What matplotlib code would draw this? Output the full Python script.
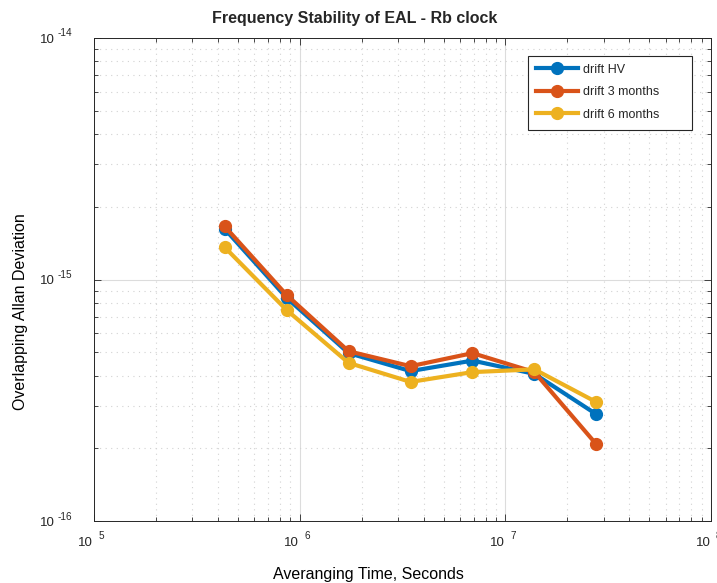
import numpy as np
import matplotlib.pyplot as plt
import matplotlib
from matplotlib.ticker import LogLocator, NullFormatter
from matplotlib.patches import Rectangle

matplotlib.rc("font", family="Liberation Sans", size=10)
matplotlib.rc("text", color="#262626")

# averaging times: 5 days and doublings
tau = [4.32e5, 8.64e5, 1.728e6, 3.456e6, 6.912e6, 1.3824e7, 2.7648e7]
adev_hv = [1.62e-15, 8.4e-16, 4.96e-16, 4.18e-16, 4.62e-16, 4.07e-16, 2.77e-16]
adev_3m = [1.66e-15, 8.63e-16, 5.05e-16, 4.38e-16, 4.96e-16, 4.14e-16, 2.08e-16]
adev_6m = [1.36e-15, 7.48e-16, 4.52e-16, 3.77e-16, 4.14e-16, 4.25e-16, 3.11e-16]

labels = ["drift HV", "drift 3 months", "drift 6 months"]
colors = ["#0072BD", "#D95319", "#EDB120"]
x_decades = [5, 6, 7, 8]
y_decades = [-16, -15, -14]

fig = plt.figure(figsize=(7.17, 5.83), dpi=100)
ax = fig.add_axes([0.131, 0.106, 0.861, 0.829])

for vals, lab, c in zip([adev_hv, adev_3m, adev_6m], labels, colors):
    ax.loglog(tau, vals, "-o", color=c, lw=3, ms=8.5, label=lab)

ax.set_xlim(1e5, 1e8)
ax.set_ylim(1e-16, 1e-14)
ax.set_xticks([10.0**d for d in x_decades])
ax.set_yticks([10.0**d for d in y_decades])
ax.xaxis.set_minor_locator(LogLocator(base=10, subs=np.arange(2, 10)))
ax.yaxis.set_minor_locator(LogLocator(base=10, subs=np.arange(2, 10)))
for axis in (ax.xaxis, ax.yaxis):
    axis.set_major_formatter(NullFormatter())
    axis.set_minor_formatter(NullFormatter())

# "10" with a detached exponent, MATLAB style
for d in x_decades:
    ax.annotate("10", (10.0**d, 0), xycoords=ax.get_xaxis_transform(),
                xytext=(-0.5, -15.8), textcoords="offset points",
                ha="right", va="center", fontsize=9.5, annotation_clip=False)
    ax.annotate(str(d), (10.0**d, 0), xycoords=ax.get_xaxis_transform(),
                xytext=(3.4, -10.8), textcoords="offset points",
                ha="left", va="center", fontsize=7.2, annotation_clip=False)
for d in y_decades:
    ax.annotate("10", (0, 10.0**d), xycoords=ax.get_yaxis_transform(),
                xytext=(-28.5, -1.4), textcoords="offset points",
                ha="right", va="center", fontsize=9.5, annotation_clip=False)
    ax.annotate(str(d), (0, 10.0**d), xycoords=ax.get_yaxis_transform(),
                xytext=(-26.5, 3.2), textcoords="offset points",
                ha="left", va="center", fontsize=7.2, annotation_clip=False)

ax.tick_params(which="both", direction="in", top=True, right=True, width=0.6,
               color="#262626")
ax.tick_params(which="major", length=5)
ax.tick_params(which="minor", length=3)

ax.grid(which="major", color="#dcdcdc", lw=0.8, ls="-")
ax.grid(which="minor", color="#d2d2d2", lw=0.8, ls=(0, (1, 4)))
ax.set_axisbelow(True)
for s in ax.spines.values():
    s.set_linewidth(0.7)
    s.set_color("#262626")

fig.text(354.5 / 717, 1 - 19 / 583, "Frequency Stability of EAL - Rb clock",
         fontweight="bold", fontsize=11.5, ha="center", va="center")
ax.set_xlabel("Averanging Time, Seconds", fontsize=11.5)
ax.xaxis.set_label_coords(0.445, -0.094)
ax.set_ylabel("Overlapping Allan Deviation", fontsize=11.5)
ax.yaxis.set_label_coords(-0.107, 0.433)

# legend box drawn separately so it can be wider than the entries
ax.add_patch(Rectangle((0.7034, 0.809), 0.2656, 0.154, transform=ax.transAxes,
                       facecolor="white", edgecolor="#262626", lw=0.8, zorder=4))
leg = ax.legend(loc="upper left", bbox_to_anchor=(0.7034, 0.963), frameon=False,
                fontsize=9, handlelength=3.4, handletextpad=0.35,
                borderaxespad=0, borderpad=0.62, labelspacing=0.84)
leg.set_zorder(5)

fig.savefig("out.png", dpi=100)
